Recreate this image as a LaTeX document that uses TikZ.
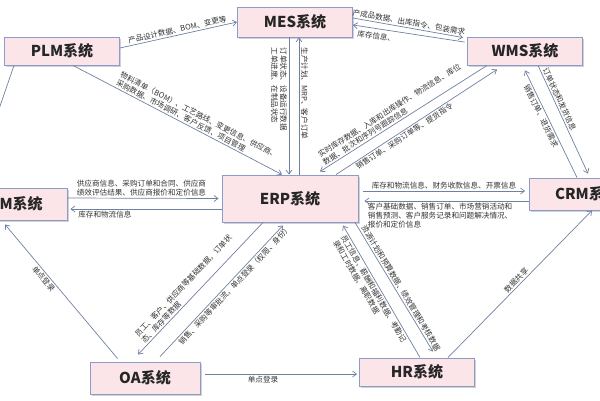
\documentclass[tikz,border=0pt]{standalone}
\usepackage{fontspec}
\setmainfont{Noto Sans CJK SC}
\usepackage{xcolor}
\usepackage{tikz}
\usetikzlibrary{arrows.meta,shadows}

\definecolor{sysfill}{HTML}{FBE5E9}
\definecolor{sysline}{HTML}{8D9BCB}
\definecolor{linkcol}{HTML}{7080A0}
\definecolor{lbltext}{HTML}{333333}

\begin{document}
\begin{tikzpicture}[
    x=1pt, y=-1pt,
    sys/.style={draw=sysline, line width=0.9pt, fill=sysfill, minimum width=115pt,
                minimum height=28pt, inner sep=0pt, text=black!85,
                font=\fontsize{15}{18}\selectfont\bfseries,
                drop shadow={shadow xshift=1.5pt, shadow yshift=-1.5pt, opacity=0.3, fill=black!60}},
    lbl/.style={font=\fontsize{7.6}{9}\selectfont, text=lbltext, inner sep=1.5pt, align=left},
    arr/.style={-{Straight Barb[length=4pt, width=6pt]}, draw=linkcol, line width=0.7pt},
    backarr/.style={{Straight Barb[length=4pt, width=6pt]}-, draw=linkcol, line width=0.7pt},
]
\useasboundingbox (0,0) rectangle (600,400);
\clip (0,0) rectangle (600,400);

% Systems
\node[sys] (plm) at (62,51) {PLM系统};
\node[sys, minimum height=30pt] (mes) at (295,22) {MES系统};
\node[sys] (wms) at (525,51) {WMS系统};
\node[sys, minimum width=112pt, minimum height=32pt] (srm) at (11,204) {SRM系统};
\node[sys, minimum width=136pt, minimum height=47pt] (erp) at (290,198.5) {ERP系统};
\node[sys, minimum height=32pt] (crm) at (587,194) {CRM系统};
\node[sys, minimum width=110pt, minimum height=32pt] (oa) at (145,378) {OA系统};
\node[sys] (hr) at (417,372) {HR系统};

% PLM links
\draw[arr] ([yshift=3pt]plm.east) -- (mes.west)
  node[lbl, midway, sloped, above] {产品设计数据、BOM、变更等};
\draw[arr] ([xshift=11pt]plm.south) -- ([xshift=-8pt]erp.north)
  node[lbl, pos=0.19, sloped, anchor=south west] {物料清单（BOM）、工艺路线、变更信息、供应商、\\采购数据、市场调研、客户反馈、项目管理};
\draw[arr] ([xshift=-48pt]plm.south) -- ([xshift=-39pt]srm.north);

% MES links
\draw[arr] ([yshift=4pt]mes.east) -- ([xshift=-4pt,yshift=-1pt]wms.north west)
  node[lbl, midway, sloped, above] {产成品数据、出库指令、包装需求};
\draw[backarr] ([yshift=-3pt]mes.east) -- ([xshift=-2.5pt,yshift=-5.5pt]wms.north west)
  node[lbl, pos=0.22, sloped, below=2pt] {库存信息、};
\draw[arr] ([xshift=-6pt]mes.south) -- ([xshift=-1pt]erp.north)
  node[lbl, pos=0.06, rotate=-90, anchor=north west] {订单状态、设备运行数据\\工单进度、在制品状态};
\draw[backarr] ([xshift=4pt]mes.south) -- ([xshift=9pt]erp.north)
  node[lbl, pos=0.06, rotate=-90, anchor=south west] {生产计划、MRP、客户订单};

% WMS links
\draw[backarr] ([xshift=30pt,yshift=3pt]erp.north) -- ([xshift=20pt]wms.south west)
  node[lbl, pos=0.03, sloped, anchor=south west] {实时库存数据、入库和出库操作、物流信息、库位\\数据、批次和序列号跟踪信息};
\draw[arr] ([xshift=46pt]erp.north) -- ([xshift=30pt,yshift=-4pt]wms.south west)
  node[lbl, pos=0.1, sloped, anchor=north west] {销售订单、采购订单等、提货指令};
\draw[backarr] ([yshift=-5pt]wms.south) -- ([xshift=-10pt]crm.north)
  node[lbl, pos=0.1, sloped, anchor=north west] {销售订单、退货需求};
\draw[arr] ([xshift=13pt]wms.south) -- ([xshift=1pt,yshift=4pt]crm.north)
  node[lbl, pos=0.03, sloped, anchor=south west] {订单状态和发货信息};

% SRM links
\draw[arr] ([yshift=6pt]srm.east) -- ([xshift=-3pt]erp.west)
  node[lbl, pos=0.05, anchor=south west] {供应商信息、采购订单和合同、供应商\\绩效评估结果、供应商报价和定价信息};
\draw[backarr] ([xshift=3pt,yshift=-5pt]srm.east) -- ([yshift=-10.5pt]erp.west)
  node[lbl, pos=0.04, anchor=north west] {库存和物流信息};

% CRM links
\draw[arr] ([xshift=5pt,yshift=7.5pt]erp.east) -- ([xshift=-4pt,yshift=3pt]crm.west)
  node[lbl, pos=0.04, anchor=south west] {库存和物流信息、财务收款信息、开票信息};
\draw[backarr] ([xshift=6pt,yshift=-2.5pt]erp.east) -- ([yshift=-7pt]crm.west)
  node[lbl, pos=0.01, anchor=north west] {客户基础数据、销售订单、市场营销活动和\\销售预测、客户服务记录和问题解决情况、\\报价和定价信息};

% OA links
\draw[backarr] ([xshift=-7pt,yshift=7pt]oa.north) -- ([xshift=-27pt]erp.south)
  node[lbl, pos=0.06, sloped, anchor=south west] {员工、客户、供应商等基础数据，订单状\\态、库存等数据};
\draw[arr] ([xshift=15pt,yshift=5pt]oa.north) -- ([xshift=-7pt,yshift=-3pt]erp.south)
  node[lbl, pos=0.12, sloped, anchor=north west] {销售、采购等审批流，单点登录（权限、身份）};
\draw[arr] ([xshift=5pt,yshift=4pt]oa.east) -- ([xshift=-2pt,yshift=-2pt]hr.west)
  node[lbl, pos=0.38, below] {单点登录};
\draw[backarr] ([xshift=-6pt,yshift=-4pt]srm.south) -- ([xshift=28pt,yshift=3pt]oa.north west)
  node[lbl, pos=0.38, sloped, below] {单点登录};

% HR links
\draw[backarr] ([xshift=53pt,yshift=-3pt]erp.south) -- ([xshift=3pt]hr.north)
  node[lbl, pos=0.05, sloped, anchor=north west] {员工信息、薪酬和福利数据、考勤记\\录和工时数据、离职数据};
\draw[arr] ([xshift=65pt]erp.south) -- ([xshift=16pt,yshift=6pt]hr.north)
  node[lbl, pos=0.04, sloped, anchor=south west] {资源计划和预算数据、绩效管理和考核数据};
\draw[arr] ([xshift=-27pt]hr.north east) -- ([xshift=5pt]crm.south)
  node[lbl, midway, sloped, above] {数据共享};

\end{tikzpicture}
\end{document}
